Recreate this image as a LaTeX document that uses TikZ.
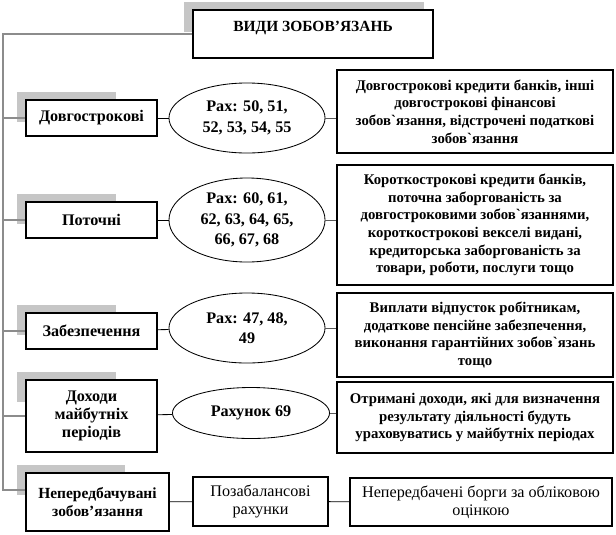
\documentclass[tikz,border=0pt]{standalone}
\usepackage{fontspec}
\setmainfont{Liberation Serif}
\usetikzlibrary{calc, backgrounds, shapes.geometric}

\begin{document}
\begin{tikzpicture}[x=0.025cm, y=-0.025cm,
		box/.style={draw, line width=0.8pt, fill=white, inner sep=1pt, align=center, font=\fontsize{10.5}{12.5}\selectfont\bfseries},
		kind/.style={box, font=\fontsize{11.5}{13}\selectfont\bfseries},
		plainbox/.style={box, font=\fontsize{11.5}{13}\selectfont},
		oval/.style={ellipse, draw, line width=0.6pt, fill=white, inner sep=0pt, align=center, minimum width=3.9cm, font=\fontsize{11.5}{14.5}\selectfont\bfseries},
		trunk/.style={gray!90, line width=1.3pt},
		link/.style={line width=0.6pt},
		shade/.style={fill=gray!45}]
	\useasboundingbox (0,0) rectangle (616,534);

	% heading
	\node[box, minimum width=6cm, inner sep=0pt, text height=0.54cm, text depth=0.66cm, font=\fontsize{11}{13}\selectfont\bfseries] (title) at (313,34) {ВИДИ ЗОБОВ’ЯЗАНЬ};

	% kinds
	\node[kind, minimum width=3.275cm, minimum height=0.9cm] (b1) at (91.5,118) {Довгострокові};
	\node[kind, minimum width=3.275cm, minimum height=0.9cm] (b2) at (91.5,220) {Поточні};
	\node[kind, minimum width=3.275cm, minimum height=0.9cm] (b3) at (91.5,331) {Забезпечення};
	\node[kind, minimum width=3.275cm, minimum height=1.8cm] (b4) at (91.5,416) {Доходи\\майбутніх\\періодів};
	\node[kind, font=\fontsize{11}{13}\selectfont\bfseries, minimum width=3.575cm, minimum height=1.45cm] (b5) at (97.5,502) {Непередбачувані\\зобов’язання};

	% accounts
	\node[oval, minimum height=1.75cm] (e1) at (247,118) {Рах: 50, 51,\\52, 53, 54, 55};
	\node[oval, minimum height=2.1cm] (e2) at (247,220) {Рах: 60, 61,\\62, 63, 64, 65,\\66, 67, 68};
	\node[oval, minimum height=1.75cm] (e3) at (247,328) {Рах: 47, 48,\\49};
	\node[oval, minimum width=3.925cm, minimum height=1.275cm] (e4) at (251,413) {Рахунок 69};
	\node[plainbox, minimum width=3.375cm, minimum height=1.225cm] (m5) at (260.5,501.5) {Позабалансові\\рахунки};

	% contents
	\node[box, minimum width=6.9cm, minimum height=2.075cm] (r1) at (475,111.5) {Довгострокові кредити банків, інші\\довгострокові фінансові\\зобов\textasciigrave язання, відстрочені податкові\\зобов\textasciigrave язання};
	\node[box, minimum width=6.9cm, minimum height=3cm] (r2) at (475,225) {Короткострокові кредити банків,\\поточна заборгованість за\\довгостроковими зобов\textasciigrave язаннями,\\короткострокові векселі видані,\\кредиторська заборгованість за\\товари, роботи, послуги тощо};
	\node[box, minimum width=6.9cm, minimum height=2.1cm] (r3) at (475,335) {Виплати відпусток робітникам,\\додаткове пенсійне забезпечення,\\виконання гарантійних зобов\textasciigrave язань\\тощо};
	\node[box, minimum width=6.9cm, minimum height=1.775cm] (r4) at (475,417.5) {Отримані доходи, які для визначення\\результату діяльності будуть\\ураховуватись у майбутніх періодах};
	\node[plainbox, minimum width=6.55cm, minimum height=1.2cm] (r5) at (481,502) {Непередбачені борги за обліковою\\оцінкою};

	\begin{scope}[on background layer]
		\foreach \s/\w in {title/240, b1/99, b2/99, b3/99, b4/99, b5/108}
			\fill[shade] ($(\s.north west)+(-8,-7)$) rectangle +(\w,30);
	\end{scope}

	\coordinate (corner) at (3,490);
	\draw[trunk] (title.west) -| (corner) -- (corner -| b5.west);
	\foreach \b in {b1,b2,b3,b4}
		\draw[trunk] (\b.west -| corner) -- (\b.west);

	\foreach \l/\o in {b1/e1, b2/e2, b3/e3, b4/e4}
		\draw[link] (\l) -- (\o);
	\foreach \o/\r in {e1/r1, e2/r2, e3/r3, e4/r4}
		\draw[link, gray!70!black] (\o.east) -- (\o.east -| \r.west);
	\draw[link] (b5) -- (m5) -- (r5);
\end{tikzpicture}
\end{document}
